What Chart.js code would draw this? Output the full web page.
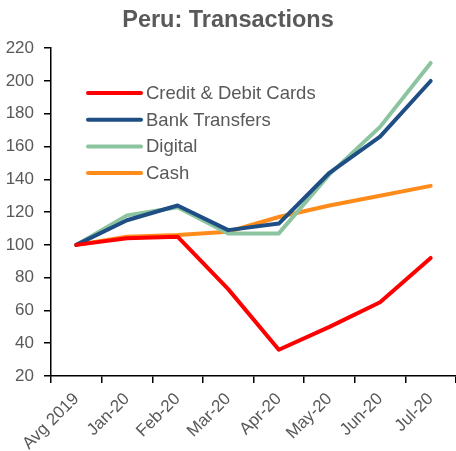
<!DOCTYPE html>
<html>
<head>
<meta charset="utf-8">
<script src="https://cdn.jsdelivr.net/npm/chart.js@4/dist/chart.umd.min.js"></script>
<style>
  html, body { margin: 0; padding: 0; background: #fff; }
  #wrap { width: 456px; height: 451px; position: relative; }
</style>
</head>
<body>
<div id="wrap"><canvas id="c"></canvas></div>
<script>
// months on the x axis
const labels = ['Avg 2019', 'Jan-20', 'Feb-20', 'Mar-20', 'Apr-20', 'May-20', 'Jun-20', 'Jul-20'];
// index values, Avg 2019 = 100
const cards = [100, 104, 105, 73, 36, 50, 65, 92];
const bank = [100, 115, 124, 109, 113, 144, 166, 200];
const digital = [100, 118, 123, 107, 107, 143, 172, 211];
const cash = [100, 105, 106, 108, 117, 124, 130, 136];
const yTicks = [20, 40, 60, 80, 100, 120, 140, 160, 180, 200, 220];

const grey = '#595959';
const font = 'Arial, "Liberation Sans", sans-serif';

// legend drawn inside the plot, top-left
const innerLegend = {
  id: 'innerLegend',
  afterDraw(chart) {
    const ctx = chart.ctx;
    ctx.save();
    ctx.font = '18.5px ' + font;
    ctx.textBaseline = 'middle';
    chart.data.datasets.forEach((ds, i) => {
      const y = 93 + i * 26.7;
      ctx.strokeStyle = ds.borderColor;
      ctx.lineWidth = 4;
      ctx.lineCap = 'round';
      ctx.beginPath();
      ctx.moveTo(88, y);
      ctx.lineTo(141, y);
      ctx.stroke();
      ctx.fillStyle = grey;
      ctx.fillText(ds.label, 146, y + 1);
    });
    ctx.restore();
  }
};

const line = (label, data, color) => ({
  label, data,
  borderColor: color,
  backgroundColor: color,
  borderWidth: 4,
  pointRadius: 0,
  tension: 0,
  borderCapStyle: 'round',
  borderJoinStyle: 'round'
});

new Chart(document.getElementById('c'), {
  type: 'line',
  data: {
    labels,
    datasets: [
      line('Credit & Debit Cards', cards, '#ff0000'),
      line('Bank Transfers', bank, '#1f4e85'),
      line('Digital', digital, '#8cc4a0'),
      line('Cash', cash, '#ff8c1a')
    ]
  },
  options: {
    responsive: true,
    maintainAspectRatio: false,
    animation: false,
    layout: { padding: 0 },
    plugins: {
      legend: { display: false },
      tooltip: { enabled: false },
      title: {
        display: true,
        text: 'Peru: Transactions',
        color: grey,
        font: { family: font, size: 23.5, weight: 'bold' },
        padding: { top: 6, bottom: 14 }
      }
    },
    scales: {
      x: {
        offset: true,
        border: { color: '#000', width: 1.5 },
        grid: { offset: true, drawOnChartArea: false, color: '#000', lineWidth: 1.5, tickLength: 7 },
        ticks: {
          color: grey,
          font: { family: font, size: 17 },
          minRotation: 45,
          maxRotation: 45,
          autoSkip: false,
          padding: 6
        },
        afterFit(s) { s.height = 75; }
      },
      y: {
        min: 20,
        max: 220,
        border: { color: '#000', width: 1.5 },
        grid: { drawOnChartArea: false, color: '#000', lineWidth: 1.5, tickLength: 7 },
        afterBuildTicks(s) { s.ticks = yTicks.map(v => ({ value: v })); },
        ticks: {
          color: grey,
          font: { family: font, size: 17 },
          padding: 10
        },
        afterFit(s) { s.width = 51; }
      }
    }
  },
  plugins: [innerLegend]
});
</script>
</body>
</html>
